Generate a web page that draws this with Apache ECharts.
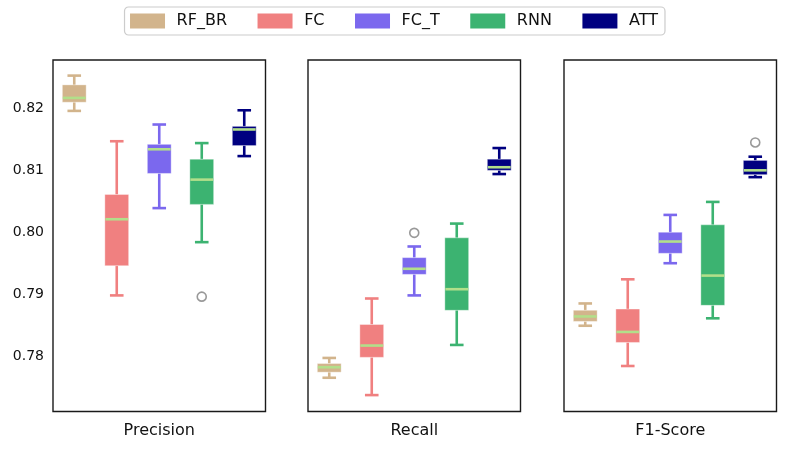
<!DOCTYPE html>
<html>
<head>
<meta charset="utf-8">
<script src="https://cdn.jsdelivr.net/npm/echarts@6/dist/echarts.min.js"></script>
<style>html,body{margin:0;padding:0;background:#fff;}#chart{width:788px;height:451px;}</style>
</head>
<body>
<div id="chart"></div>
<script>
// ---- data ----
const models = ['RF_BR', 'FC', 'FC_T', 'RNN', 'ATT'];
const metrics = ['Precision', 'Recall', 'F1-Score'];
// each box: [lowWhisker, q1, median, q3, highWhisker]
const precisionBoxes = [
  [0.8196, 0.8210, 0.8217, 0.8238, 0.8253],
  [0.7898, 0.7946, 0.8021, 0.8061, 0.8147],
  [0.8039, 0.8095, 0.8134, 0.8142, 0.8174],
  [0.7984, 0.8045, 0.8085, 0.8118, 0.8144],
  [0.8123, 0.8140, 0.8166, 0.8171, 0.8197]
];
const recallBoxes = [
  [0.7765, 0.7774, 0.7782, 0.7788, 0.7797],
  [0.7737, 0.7798, 0.7817, 0.7851, 0.7893],
  [0.7898, 0.7932, 0.7941, 0.7959, 0.7977],
  [0.7818, 0.7874, 0.7908, 0.7991, 0.8014],
  [0.8094, 0.8100, 0.8105, 0.8118, 0.8136]
];
const f1Boxes = [
  [0.7849, 0.7856, 0.7864, 0.7874, 0.7885],
  [0.7784, 0.7822, 0.7839, 0.7876, 0.7924],
  [0.7950, 0.7966, 0.7985, 0.8000, 0.8028],
  [0.7861, 0.7882, 0.7930, 0.8012, 0.8049],
  [0.8089, 0.8093, 0.8100, 0.8116, 0.8122]
];
// outliers: [modelIndex, value]
const precisionOutliers = [[3, 0.7896]];
const recallOutliers = [[2, 0.7999]];
const f1Outliers = [[4, 0.8145]];
const yMin = 0.77105, yMax = 0.82782;

// ---- styles ----
const colors = ['#D2B48C', '#F08080', '#7B68EE', '#3CB371', '#000080'];
const medianColor = '#b2df8a';
const FONT = 'DejaVu Sans';

const boxesByMetric = [precisionBoxes, recallBoxes, f1Boxes];
const outliersByMetric = [precisionOutliers, recallOutliers, f1Outliers];
const gridLefts = [53, 308, 564];

function renderBox(params, api) {
  const cat = api.value(0);
  const yLow = api.coord([cat, api.value(1)])[1];
  const yQ1 = api.coord([cat, api.value(2)])[1];
  const yMed = api.coord([cat, api.value(3)])[1];
  const yQ3 = api.coord([cat, api.value(4)])[1];
  const yHigh = api.coord([cat, api.value(5)])[1];
  const x = api.coord([cat, api.value(3)])[0];
  const band = api.size([1, 0])[0];
  const bw = band * 0.56, cw = band * 0.32;
  const color = api.visual('color');
  const lw = 2.6;
  return {
    type: 'group',
    children: [
      {type: 'line', shape: {x1: x, y1: yQ3, x2: x, y2: yHigh}, style: {stroke: color, lineWidth: lw}},
      {type: 'line', shape: {x1: x, y1: yQ1, x2: x, y2: yLow}, style: {stroke: color, lineWidth: lw}},
      {type: 'line', shape: {x1: x - cw / 2, y1: yHigh, x2: x + cw / 2, y2: yHigh}, style: {stroke: color, lineWidth: lw}},
      {type: 'line', shape: {x1: x - cw / 2, y1: yLow, x2: x + cw / 2, y2: yLow}, style: {stroke: color, lineWidth: lw}},
      {type: 'rect', shape: {x: x - bw / 2, y: yQ3, width: bw, height: yQ1 - yQ3},
        style: {fill: color, stroke: 'rgba(255,255,255,0.35)', lineWidth: 1}},
      {type: 'line', shape: {x1: x - bw / 2 + 0.5, y1: yMed, x2: x + bw / 2 - 0.5, y2: yMed},
        style: {stroke: medianColor, lineWidth: lw}}
    ]
  };
}

const grids = [], xAxes = [], yAxes = [], series = [];
metrics.forEach((m, p) => {
  grids.push({left: gridLefts[p], top: 60, width: 212.5, height: 351.5,
    show: true, borderColor: '#1a1a1a', borderWidth: 1.4, backgroundColor: 'transparent'});
  xAxes.push({type: 'category', gridIndex: p, data: models, boundaryGap: true,
    axisLabel: {show: false}, axisTick: {show: false}, axisLine: {show: false}, splitLine: {show: false},
    name: m, nameLocation: 'middle', nameGap: 11,
    nameTextStyle: {fontFamily: FONT, fontSize: 16, color: '#111', verticalAlign: 'top'}});
  yAxes.push({type: 'value', gridIndex: p, min: yMin, max: yMax, scale: true,
    axisLine: {show: false}, axisTick: {show: false}, splitLine: {show: false},
    axisLabel: {show: p === 0, showMinLabel: false, showMaxLabel: false, margin: 9,
      fontFamily: FONT, fontSize: 14, color: '#111',
      formatter: v => v.toFixed(2)}});
  models.forEach((name, i) => {
    const b = boxesByMetric[p][i];
    series.push({type: 'custom', name: name, xAxisIndex: p, yAxisIndex: p,
      itemStyle: {color: colors[i]}, renderItem: renderBox,
      encode: {x: 0, y: [1, 2, 3, 4, 5]},
      data: [[i, b[0], b[1], b[2], b[3], b[4]]]});
  });
  series.push({type: 'scatter', name: 'outliers', xAxisIndex: p, yAxisIndex: p,
    symbol: 'circle', symbolSize: 9,
    itemStyle: {color: '#fff', borderColor: '#808080', borderWidth: 1.6},
    data: outliersByMetric[p]});
});

const chart = echarts.init(document.getElementById('chart'), null, {renderer: 'canvas'});
chart.setOption({
  animation: false,
  backgroundColor: '#fff',
  legend: {
    data: models, top: 7, left: 'center', icon: 'rect',
    itemWidth: 35, itemHeight: 15, itemGap: 30.5,
    padding: [6, 7, 6, 5.5],
    borderColor: '#cccccc', borderWidth: 1.2, borderRadius: 4,
    textStyle: {fontFamily: FONT, fontSize: 16, color: '#111', padding: [0, 0, 0, 6.6]}
  },
  grid: grids,
  xAxis: xAxes,
  yAxis: yAxes,
  series: series
});
</script>
</body>
</html>
